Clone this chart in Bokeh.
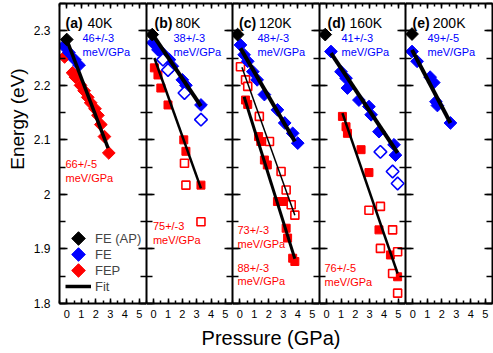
import numpy as np
from bokeh.plotting import figure
from bokeh.models import (Range1d, LinearAxis, SingleIntervalTicker, Label, Legend,
                          LegendItem, CustomJSTickFormatter, PolyAnnotation)
from bokeh.layouts import row, column
from bokeh.embed import file_html
from bokeh.resources import INLINE

FONT = "Liberation Sans"
BLUE = "#0000FF"
RED = "#FF0000"

# ---------------- data ----------------
panel_tags = ["(a)", "(b)", "(c)", "(d)", "(e)"]
temps = ["40K", "80K", "120K", "160K", "200K"]

# ambient pressure FE
ap_p = [0.0, -0.1, -0.15, -0.1, -0.05]
ap_e = [2.284, 2.293, 2.293, 2.293, 2.294]

# (a) 40K
a_fe_p = [-0.2, 0.15, 0.55, 0.85]
a_fe_e = [2.272, 2.26, 2.247, 2.237]
a_fep_p = [-0.15, 0.4, 0.6, 0.95, 1.2, 1.45, 1.65, 1.95, 2.15, 2.35, 2.6, 2.9]
a_fep_e = [2.252, 2.223, 2.215, 2.2, 2.19, 2.178, 2.168, 2.157, 2.145, 2.128, 2.106, 2.076]
a_fit_fep_p = [-0.05, 2.85]
a_fit_fep_e = [2.287, 2.085]

# (b) 80K
b_fe_p = [-0.05, 0.3, 0.65, 1.1, 1.3, 2.0, 2.25, 3.3]
b_fe_e = [2.278, 2.265, 2.258, 2.247, 2.235, 2.21, 2.2, 2.164]
b_feo_p = [0.65, 1.0, 2.15, 3.3]
b_feo_e = [2.247, 2.228, 2.186, 2.137]
b_fep_p = [0.05, 0.3, 0.5, 1.0, 2.1, 2.25, 3.3]
b_fep_e = [2.232, 2.219, 2.195, 2.164, 2.1, 2.079, 2.017]
b_fepo_p = [2.15, 2.25, 3.3]
b_fepo_e = [2.057, 2.017, 1.95]
b_fit_fe_p = [-0.15, 3.3]
b_fit_fe_e = [2.296, 2.162]
b_fit_fep_p = [0.05, 3.3]
b_fit_fep_e = [2.25, 2.011]

# (c) 120K
c_fe_p = [0.05, 0.3, 0.55, 0.9, 1.2, 1.7, 2.6, 3.1, 3.65, 4.0]
c_fe_e = [2.274, 2.256, 2.244, 2.225, 2.21, 2.183, 2.155, 2.131, 2.112, 2.094]
c_fep_p = [0.4, 0.55, 1.3, 1.45, 1.7, 1.9, 2.6, 3.1, 3.2, 3.3, 3.65, 3.8]
c_fep_e = [2.173, 2.165, 2.106, 2.097, 2.063, 2.054, 1.987, 1.987, 1.938, 1.92, 1.883, 1.877]
c_fepo_p = [0.05, 0.4, 0.55, 1.35, 2.05, 2.85, 3.2, 3.55, 3.8]
c_fepo_e = [2.234, 2.21, 2.198, 2.143, 2.097, 2.042, 2.008, 1.981, 1.962]
c_fit_fe_p = [0.05, 3.8]
c_fit_fe_e = [2.268, 2.097]
c_fit_fep_p = [0.3, 3.8]
c_fit_fep_e = [2.179, 1.882]
c_fit_fepo_p = [0.15, 3.8]
c_fit_fepo_e = [2.233, 1.962]

# (d) 160K
d_fe_p = [0.3, 1.0, 1.35, 1.45, 2.25, 2.95, 3.1, 3.65, 4.7, 4.8]
d_fe_e = [2.262, 2.225, 2.213, 2.195, 2.173, 2.161, 2.146, 2.115, 2.091, 2.072]
d_feo_p = [3.75, 4.6, 4.95]
d_feo_e = [2.078, 2.042, 2.02]
d_fep_p = [1.1, 1.35, 1.45, 2.4, 2.95, 3.65, 4.45, 4.95]
d_fep_e = [2.143, 2.124, 2.112, 2.082, 2.04, 1.935, 1.889, 1.849]
d_fepo_p = [2.95, 3.75, 4.6, 3.75, 4.95, 4.6, 4.95]
d_fepo_e = [1.971, 1.978, 1.935, 1.901, 1.895, 1.855, 1.819]
d_fit_fe_p = [0.3, 4.95]
d_fit_fe_e = [2.259, 2.076]
d_fit_fep_p = [1.1, 4.95]
d_fit_fep_e = [2.149, 1.855]

# (e) 200K
e_fe_p = [-0.05, 0.3, 1.2, 1.45, 1.6, 1.7, 2.6]
e_fe_e = [2.262, 2.244, 2.215, 2.205, 2.17, 2.163, 2.131]
e_fit_fe_p = [-0.05, 2.6]
e_fit_fe_e = [2.265, 2.131]

slope_fe = ["46+/-3", "38+/-3", "48+/-3", "41+/-3", "49+/-5"]
slope_fep = ["66+/-5", "75+/-3", "73+/-3", "76+/-5"]
slope_fep2 = ["88+/-3"]
unit_txt = "meV/GPa"
legend_labels = ["FE (AP)", "FE", "FEP", "Fit"]

# ---------------- helpers ----------------
def style_axis(ax, tin, tmin, labels, size="11px", standoff=5):
    ax.axis_line_width = 2
    ax.axis_line_color = "black"
    ax.major_tick_in = tin
    ax.major_tick_out = 0
    ax.minor_tick_in = tmin
    ax.minor_tick_out = 0
    ax.major_tick_line_width = 1.5
    ax.minor_tick_line_width = 1.5
    ax.major_tick_line_color = "black"
    ax.minor_tick_line_color = "black"
    if labels:
        ax.major_label_text_font = FONT
        ax.major_label_text_font_size = size
        ax.major_label_text_color = "black"
        ax.major_label_standoff = standoff
    else:
        ax.formatter = CustomJSTickFormatter(code="return ''")
        ax.major_label_text_font_size = "1px"
        ax.major_label_standoff = 0


def make_fig(fw, bl, br, left_labels):
    p = figure(frame_width=fw, frame_height=300, title_location=None,
               x_range=Range1d(-0.5, 5.5), y_range=Range1d(1.8, 2.35),
               min_border_left=bl, min_border_right=br, min_border_top=3,
               min_border_bottom=50, output_backend="svg", toolbar_location=None,
               outline_line_color=None, background_fill_color="white",
               border_fill_color="white")
    p.xgrid.visible = False
    p.ygrid.visible = False
    p.xaxis.ticker = SingleIntervalTicker(interval=1, num_minor_ticks=2)
    p.yaxis.ticker = SingleIntervalTicker(interval=0.1, num_minor_ticks=2)
    style_axis(p.xaxis[0], 5, 3, True, "11px", 6)
    style_axis(p.yaxis[0], 8, 6, left_labels, "12px", 9)
    top = LinearAxis(ticker=SingleIntervalTicker(interval=1, num_minor_ticks=2))
    style_axis(top, 5, 3, False)
    p.add_layout(top, "above")
    right = LinearAxis(ticker=SingleIntervalTicker(interval=0.1, num_minor_ticks=2))
    style_axis(right, 8, 6, False)
    p.add_layout(right, "right")
    return p


def lab(p, text, x, y, color="black", size="11px", bold=False, **kw):
    p.add_layout(Label(x=x, y=y, x_units="screen", y_units="screen", text=text,
                       text_color=color, text_font=FONT, text_font_size=size,
                       text_font_style="bold" if bold else "normal",
                       text_baseline=kw.pop("text_baseline", "middle"), **kw))


def diamonds(p, xs, ys, color, filled=True):
    return p.scatter(xs, ys, marker="square", angle=np.pi / 4, size=9,
                     fill_color=color if filled else "white", line_color=color,
                     line_width=1 if filled else 1.6)


def squares(p, xs, ys, color, filled=True):
    return p.scatter(xs, ys, marker="square", size=8,
                     fill_color=color if filled else "white", line_color=color,
                     line_width=1 if filled else 1.6)


def fit(p, xs, ys, w):
    return p.line(xs, ys, line_color="black", line_width=w)


frame_w = [87, 86, 87, 86, 87]
figs = []
for i in range(5):
    p = make_fig(frame_w[i], 27 if i == 0 else 0, 3 if i == 4 else 0, i == 0)
    figs.append(p)

pa, pb, pc, pd, pe = figs

# (a)
r_fep = diamonds(pa, a_fep_p, a_fep_e, RED)
r_fe = diamonds(pa, a_fe_p, a_fe_e, BLUE)
r_ap = diamonds(pa, ap_p[0:1], ap_e[0:1], "black")
r_fit = fit(pa, a_fit_fep_p, a_fit_fep_e, 3.5)

# (b)
squares(pb, b_fep_p, b_fep_e, RED)
squares(pb, b_fepo_p, b_fepo_e, RED, False)
diamonds(pb, b_fe_p, b_fe_e, BLUE)
diamonds(pb, b_feo_p, b_feo_e, BLUE, False)
diamonds(pb, ap_p[1:2], ap_e[1:2], "black")
fit(pb, b_fit_fe_p, b_fit_fe_e, 4)
fit(pb, b_fit_fep_p, b_fit_fep_e, 2.5)

# (c)
squares(pc, c_fep_p, c_fep_e, RED)
squares(pc, c_fepo_p, c_fepo_e, RED, False)
diamonds(pc, c_fe_p, c_fe_e, BLUE)
diamonds(pc, ap_p[2:3], ap_e[2:3], "black")
fit(pc, c_fit_fe_p, c_fit_fe_e, 4)
fit(pc, c_fit_fep_p, c_fit_fep_e, 3)
fit(pc, c_fit_fepo_p, c_fit_fepo_e, 1.5)

# (d)
squares(pd, d_fep_p, d_fep_e, RED)
squares(pd, d_fepo_p, d_fepo_e, RED, False)
diamonds(pd, d_fe_p, d_fe_e, BLUE)
diamonds(pd, d_feo_p, d_feo_e, BLUE, False)
diamonds(pd, ap_p[3:4], ap_e[3:4], "black")
fit(pd, d_fit_fe_p, d_fit_fe_e, 4)
fit(pd, d_fit_fep_p, d_fit_fep_e, 2.5)

# (e)
diamonds(pe, e_fe_p, e_fe_e, BLUE)
diamonds(pe, ap_p[4:5], ap_e[4:5], "black")
fit(pe, e_fit_fe_p, e_fit_fe_e, 4)

# panel titles
tag_x = [6, 8, 6.5, 8, 7]
temp_x = [28, 29, 26.5, 30, 27.3]
for i, p in enumerate(figs):
    lab(p, panel_tags[i], tag_x[i], 281, size="14px", bold=True)
    lab(p, temps[i], temp_x[i], 281, size="14px")

# FE slope labels
fe_x = [23, 27, 25, 22, 22]
for i, p in enumerate(figs):
    lab(p, slope_fe[i], fe_x[i], 266, BLUE)
    lab(p, unit_txt, fe_x[i], 252, BLUE)

# FEP slope labels
fep_pos = [(pa, 6, 140), (pb, 6.4, 78), (pc, 5, 74), (pd, 5, 36)]
for i, (p, x, y) in enumerate(fep_pos):
    lab(p, slope_fep[i], x, y, RED)
    lab(p, unit_txt, x, y - 14, RED)
lab(pc, slope_fep2[0], 5, 36, RED)
lab(pc, unit_txt, 5, 23, RED)

# legend
legend = Legend(items=[LegendItem(label=legend_labels[0], renderers=[r_ap]),
                       LegendItem(label=legend_labels[1], renderers=[r_fe]),
                       LegendItem(label=legend_labels[2], renderers=[r_fep]),
                       LegendItem(label=legend_labels[3], renderers=[r_fit])],
                location=(6, 9), padding=0, margin=0, spacing=0,
                glyph_width=26, glyph_height=16, label_standoff=4,
                label_height=16, label_text_font=FONT, label_text_font_size="13px",
                background_fill_alpha=0, border_line_alpha=0)
pa.add_layout(legend)

# diamond-shaped legend symbols (legend draws markers unrotated)
h = 6.8
for k, col in enumerate(["black", BLUE, RED]):
    cx, cy = 19, 65 - 16 * k
    pa.add_layout(PolyAnnotation(xs=[cx, cx + h, cx, cx - h], ys=[cy + h, cy, cy - h, cy],
                                 xs_units="screen", ys_units="screen",
                                 fill_color=col, fill_alpha=1, line_color=col,
                                 line_alpha=1, line_width=1, level="overlay"))

# y-axis title figure
yf = figure(width=30, height=353, x_range=Range1d(0, 1), y_range=Range1d(0, 1),
            output_backend="svg", toolbar_location=None, min_border=0,
            title_location=None,
            x_axis_location=None, y_axis_location=None, outline_line_color=None)
yf.grid.visible = False
yf.add_layout(Label(x=17, y=184.5, x_units="screen", y_units="screen",
                    text="Energy (eV)", angle=np.pi / 2, text_align="center",
                    text_baseline="alphabetic", text_font=FONT,
                    text_font_size="19px", text_color="black"))

# x-axis title figure (transparent, laid over the empty bottom border)
lf = figure(width=493, height=40, x_range=Range1d(0, 1), y_range=Range1d(0, 1),
            output_backend="svg", toolbar_location=None, min_border=0,
            title_location=None,
            x_axis_location=None, y_axis_location=None, outline_line_color=None,
            background_fill_alpha=0, border_fill_alpha=0,
            styles={"margin-top": "-40px"})
lf.grid.visible = False
lf.add_layout(Label(x=270.5, y=27, x_units="screen", y_units="screen",
                    text="Pressure (GPa)", text_align="center",
                    text_baseline="top", text_font=FONT,
                    text_font_size="20px", text_color="black"))

layout = column(row(yf, *figs), lf)

open("out.html", "w").write(file_html(layout, INLINE))
